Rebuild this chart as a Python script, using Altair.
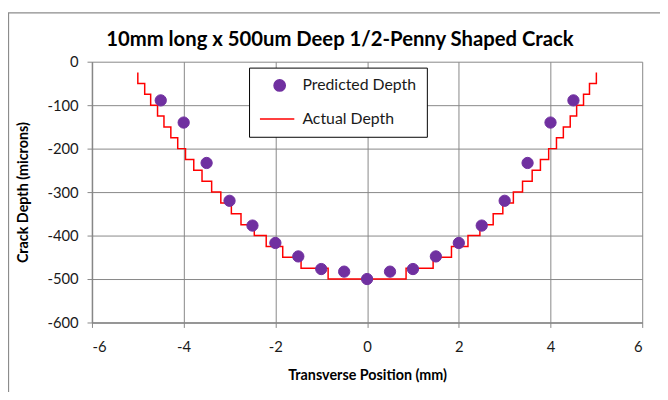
import altair as alt
import pandas as pd

# Predicted depth (markers)
pred_x = [-4.5, -4, -3.5, -3, -2.5, -2, -1.5, -1, -0.5, 0, 0.5, 1, 1.5, 2, 2.5, 3, 3.5, 4, 4.5]
pred_y = [-89, -140, -233, -320, -377, -417, -448, -477, -483, -500,
          -483, -477, -448, -417, -377, -320, -233, -140, -89]

# Actual depth (staircase: x where the level starts, level in microns)
actual_x = [-5.0, -5.0, -4.85, -4.72, -4.57, -4.43, -4.28, -4.13, -3.96, -3.78,
            -3.60, -3.39, -3.19, -2.96, -2.75, -2.46, -2.20, -1.84, -1.44, -0.85,
            0.85, 1.44, 1.84, 2.20, 2.46, 2.75, 2.96, 3.19, 3.39, 3.60,
            3.78, 3.96, 4.13, 4.28, 4.43, 4.57, 4.72, 4.85, 5.0]
actual_y = [-25, -50, -75, -100, -125, -150, -175, -200, -225, -250,
            -275, -300, -325, -350, -375, -400, -425, -450, -475, -500,
            -475, -450, -425, -400, -375, -350, -325, -300, -275, -250,
            -225, -200, -175, -150, -125, -100, -75, -50, -25]

x_ticks = [-6, -4, -2, 0, 2, 4, 6]
y_ticks = [-600, -500, -400, -300, -200, -100, 0]

series = ["Predicted Depth", "Actual Depth"]
series_colors = ["#7030A0", "#FF0000"]
chart_title = "10mm long x 500um Deep 1/2-Penny Shaped Crack"

FONT = "Lato"
GRID = "#878787"

pts = pd.DataFrame({"x": pred_x, "y": pred_y, "series": series[0]})
steps = pd.DataFrame({"x": actual_x, "y": actual_y, "i": list(range(len(actual_x))), "series": series[1]})

xenc = alt.X("x:Q", scale=alt.Scale(domain=[-6, 6], nice=False),
             axis=alt.Axis(values=x_ticks, labelExpr="datum.value + ''",
                           title="Transverse Position (mm)", titlePadding=15))
yenc = alt.Y("y:Q", scale=alt.Scale(domain=[-600, 0], nice=False),
             axis=alt.Axis(values=y_ticks, labelExpr="datum.value + ''",
                           title="Crack Depth (microns)", titlePadding=17))

legend = alt.Legend(orient="none", legendX=159, legendY=6, title=None,
                    fillColor="white", strokeColor="black",
                    padding=10, rowPadding=17, symbolSize=130, symbolOffset=13,
                    symbolStrokeWidth=1.5, labelOffset=15,
                    labelExpr="datum.label + '\u2002\u2002\u2002'",
                    labelFont=FONT, labelFontSize=16, labelColor="#1a1a1a")

color_scale = alt.Scale(domain=series, range=series_colors)
shape_scale = alt.Scale(domain=series, range=["circle", "M-3.5,0L2.6,0"])

frame = alt.Chart(pd.DataFrame({"a": [0]})).mark_rect(
    filled=False, stroke="#8c8c8c", strokeWidth=1.3
).encode(x=alt.value(-84.5), x2=alt.value(620), y=alt.value(-49.5), y2=alt.value(360))

title = alt.Chart(pd.DataFrame({"t": [chart_title]})).mark_text(
    font=FONT, fontSize=20.5, fontWeight="bold", color="#000000",
    align="center", baseline="alphabetic"
).encode(text="t:N", x=alt.value(251), y=alt.value(-16))

line = alt.Chart(steps).mark_line(interpolate="step-after", strokeWidth=1.5).encode(
    x=xenc, y=yenc, order="i:Q",
    color=alt.Color("series:N", scale=color_scale, legend=legend),
)

points = alt.Chart(pts).mark_point(filled=False, size=130, opacity=1, strokeWidth=1).encode(
    x=xenc, y=yenc,
    color=alt.Color("series:N", scale=color_scale, legend=legend),
    fill=alt.Fill("series:N", scale=color_scale, legend=legend),
    shape=alt.Shape("series:N", scale=shape_scale, legend=legend),
)

chart = alt.layer(frame, title, line, points).properties(
    width=557, height=264,
    autosize=alt.AutoSizeParams(type="none"),
    padding={"left": 85, "top": 52, "right": 18, "bottom": 68},
).configure_view(stroke=None).configure_axis(
    grid=True, gridColor=GRID, gridWidth=1, domainColor=GRID, domainWidth=1.5,
    tickColor=GRID, tickSize=5, tickWidth=1,
    labelFont=FONT, labelFontSize=15, labelColor="#1a1a1a", labelPadding=9,
    titleFont=FONT, titleFontSize=14.5, titleFontWeight="bold", titleColor="#000000",
).configure_axisX(labelPadding=12)

chart.save("out.html", embed_options={"renderer": "svg", "actions": False})
